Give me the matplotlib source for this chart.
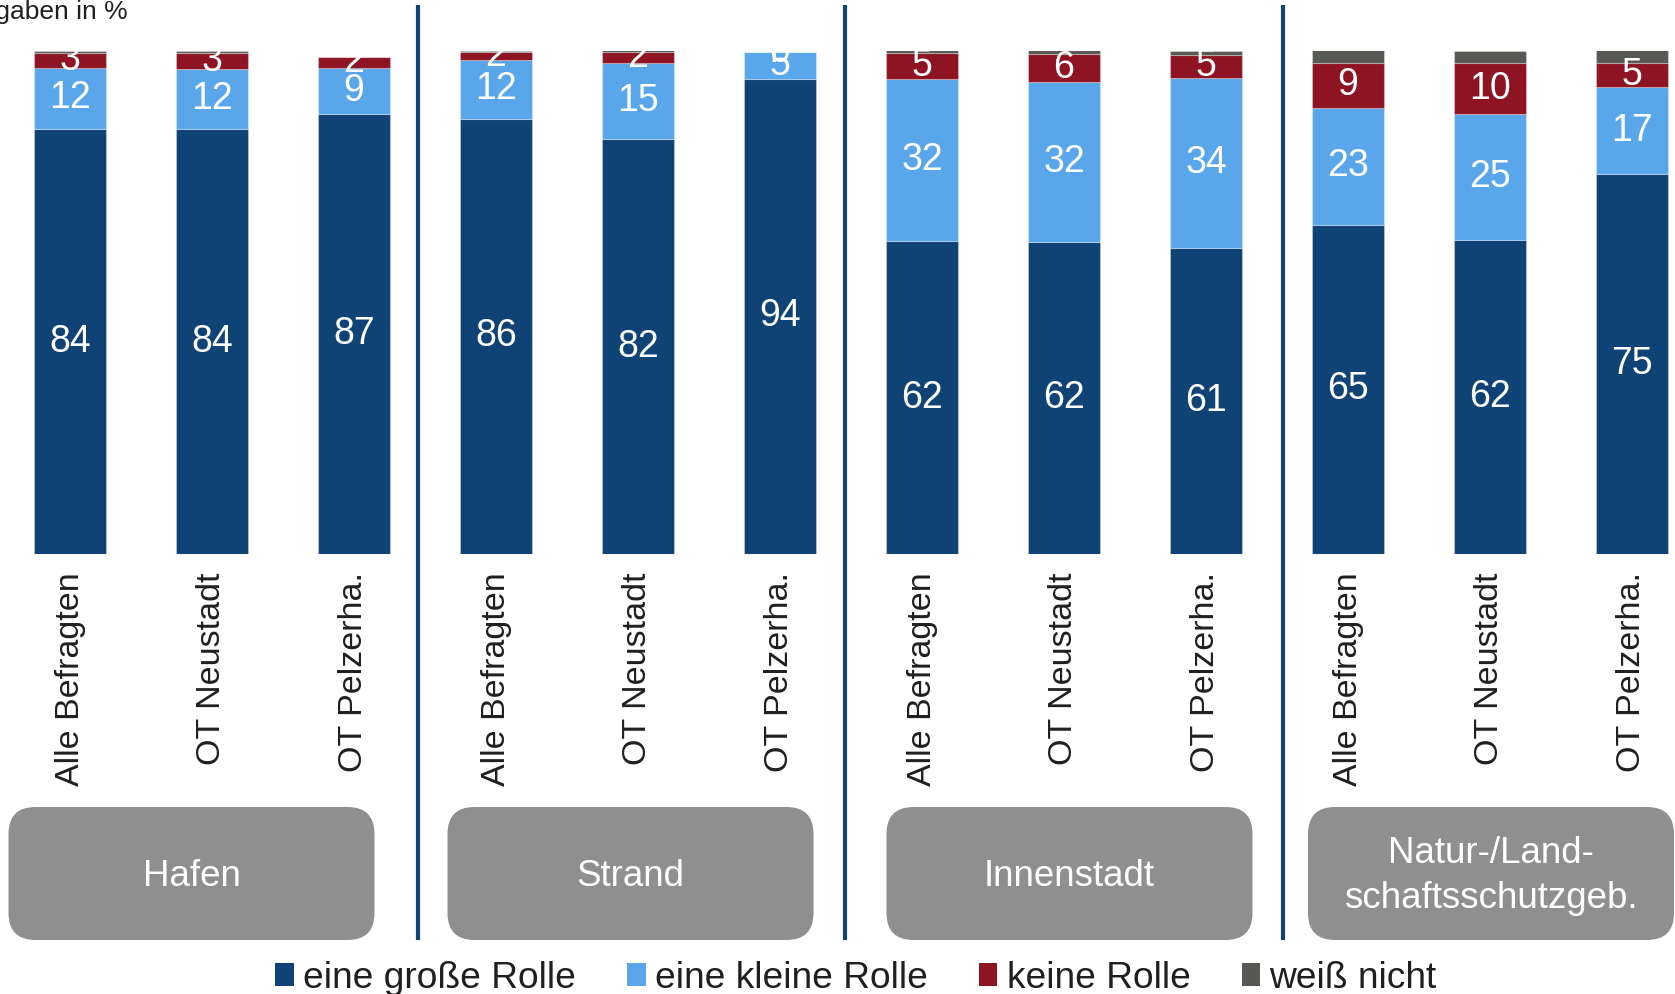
import matplotlib as mpl
import matplotlib.pyplot as plt
import numpy as np
from matplotlib.patches import FancyBboxPatch, Patch

W, H = 1675, 994  # output size in pixels (dpi 100)

DARK = "#0f4275"
LIGHT = "#59a7ea"
RED = "#8f1423"
GREY = "#585854"
BOX = "#8f8f8f"
INK = "#1f1f1f"

GROUPS = ["Hafen", "Strand", "Innenstadt", "Natur-/Land-\nschaftsschutzgeb."]
SUBGROUPS = ["Alle Befragten", "OT Neustadt", "OT Pelzerha."]
SERIES = ["eine große Rolle", "eine kleine Rolle", "keine Rolle", "weiß nicht"]
COLORS = [DARK, LIGHT, RED, GREY]

# values in %, three bars per group (Alle / Neustadt / Pelzerhaken)
GROSS = [84.4, 84.4, 87.4, 86.4, 82.4, 94.4, 62.1, 61.9, 60.8, 65.4, 62.4, 75.4]
KLEIN = [12.2, 11.9, 9.2, 11.8, 15.2, 5.4, 32.2, 31.9, 33.8, 23.2, 24.9, 17.4]
KEINE = [3.0, 3.3, 2.2, 1.6, 2.1, 0.0, 5.2, 5.6, 4.6, 8.9, 10.2, 4.8]
WEISS = [0.3, 0.3, 0.0, 0.2, 0.3, 0.0, 0.5, 0.7, 0.8, 2.5, 2.4, 2.4]

mpl.rcParams.update({
    "font.family": ["Liberation Sans", "DejaVu Sans"],
    "text.color": INK,
})

fig = plt.figure(figsize=(W / 100, H / 100), dpi=100)

# pixel canvas for the furniture (separators, group boxes, note)
cv = fig.add_axes([0, 0, 1, 1])
cv.set_xlim(0, W)
cv.set_ylim(H, 0)
cv.axis("off")

# bar area: baseline 554 px from top, 100 % at ~50 px from top
ax = fig.add_axes([0, (H - 554) / H, 1, (554 - 50.5) / H])
ax.patch.set_visible(False)
pitch = 142
ax.set_xlim(-70 / pitch, (W - 70) / pitch)
ax.set_ylim(0, 100)

x = np.arange(len(GROSS))
bottom = np.zeros(len(GROSS))
for k, (vals, col) in enumerate(zip([GROSS, KLEIN, KEINE, WEISS], COLORS)):
    vals = np.array(vals)
    ax.bar(x, vals, bottom=bottom, width=72 / pitch, color=col,
           edgecolor=(1, 1, 1, 0.3), linewidth=0.8, zorder=2)
    if k < 3:  # "weiß nicht" is never labelled
        for xi, b, v in zip(x, bottom, vals):
            ax.text(xi, b + v / 2, f"{v:.0f}", ha="center", va="center",
                    fontsize=27, color="white", zorder=3)
    bottom += vals

ax.set_xticks(x)
ax.set_xticklabels(SUBGROUPS * len(GROUPS), rotation=90, fontsize=24.5,
                   color=INK)
ax.tick_params(axis="x", length=0, pad=13)
ax.set_yticks([])
for s in ax.spines.values():
    s.set_visible(False)

# group separators
for sx in (418, 845, 1283):
    cv.plot([sx, sx], [5, 940], color=DARK, lw=3, solid_capstyle="butt")

# group boxes
box_left = [8.5, 447.5, 886.5, 1308]
for left, name in zip(box_left, GROUPS):
    cv.add_patch(FancyBboxPatch((left, 807), 366, 133,
                                boxstyle="round,pad=0,rounding_size=27",
                                facecolor=BOX, edgecolor="none"))
    cv.text(left + 183, 876, name, ha="center", va="center", fontsize=26.5,
            color="white", linespacing=1.35)

cv.text(128, 19, "Angaben in %", ha="right", va="baseline", fontsize=19,
        color=INK)

handles = [Patch(facecolor=c, edgecolor="none", label=l)
           for c, l in zip(COLORS, SERIES)]
fig.legend(handles=handles, loc="center", bbox_to_anchor=(0.511, 16 / H),
           ncol=4, frameon=False, fontsize=26.7, handlelength=0.5,
           handleheight=0.55, handletextpad=0.25, columnspacing=1.38,
           borderaxespad=0, borderpad=0)

fig.savefig("out.png", dpi=100)
